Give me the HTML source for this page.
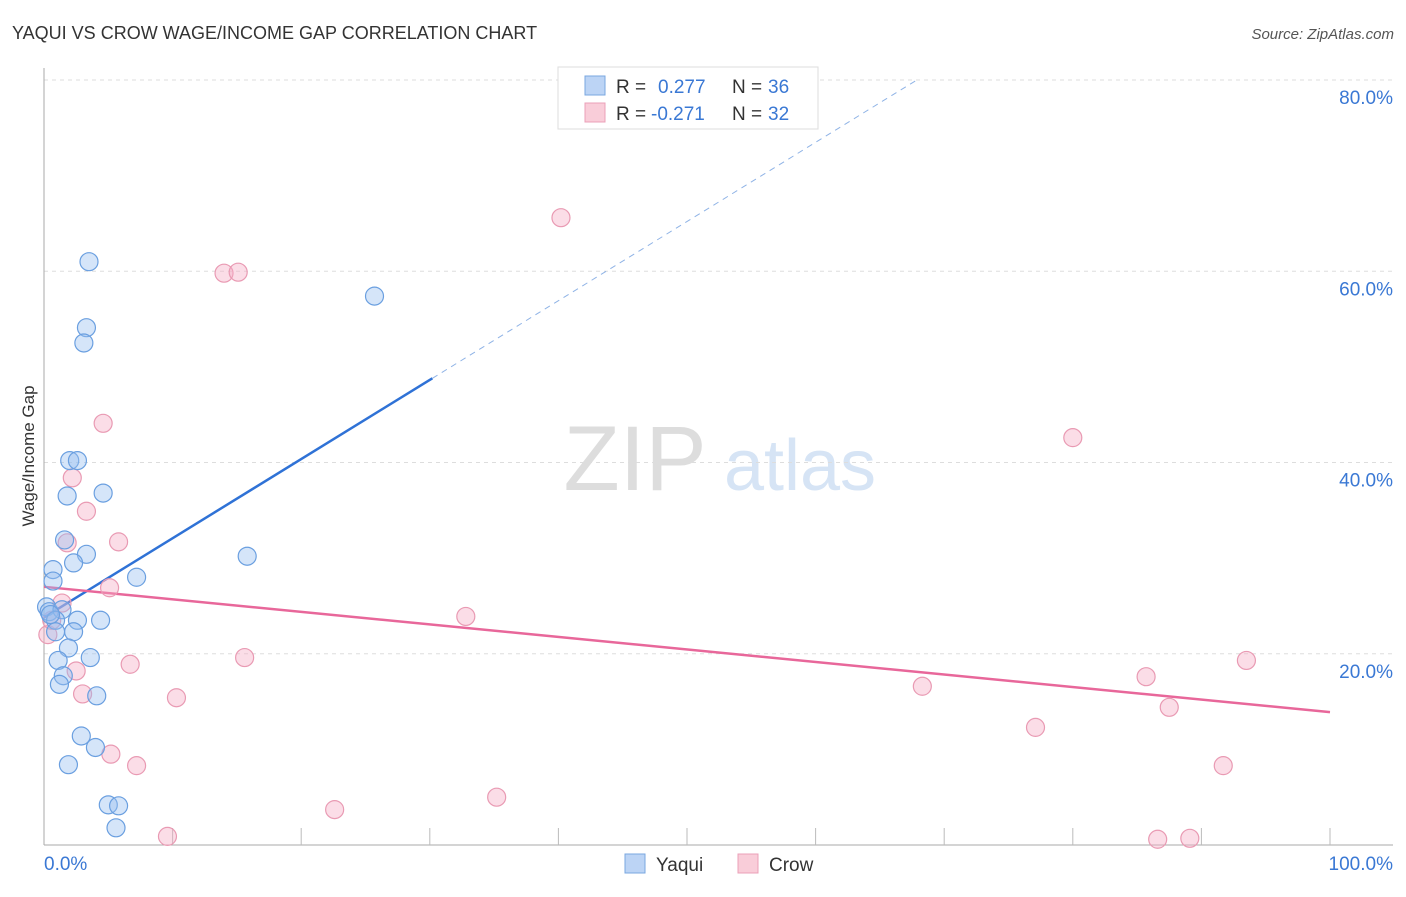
<!DOCTYPE html>
<html><head><meta charset="utf-8"><style>
body{margin:0;background:#fff;font-family:"Liberation Sans",sans-serif;}
svg text{font-family:"Liberation Sans",sans-serif;}
</style></head><body>
<svg id="chart" width="1406" height="892" viewBox="0 0 1406 892" xmlns="http://www.w3.org/2000/svg">
<text x="12" y="39" font-size="18" fill="#333">YAQUI VS CROW WAGE/INCOME GAP CORRELATION CHART</text>
<text x="1394" y="39" font-size="15" fill="#555" font-style="italic" text-anchor="end">Source: ZipAtlas.com</text>
<g>
<text x="635" y="490" font-size="92" fill="#ddd" font-family="Liberation Serif" text-anchor="middle">ZIP</text>
<text x="800" y="490" font-size="72" fill="#d6e4f5" text-anchor="middle">atlas</text>
</g>
<g id="grid"></g>
<g id="axes"></g>
<g id="lines"></g>
<g id="points"></g>
<text transform="translate(34,456) rotate(-90)" font-size="17" fill="#333" text-anchor="middle">Wage/Income Gap</text>
<g>
<rect x="558" y="67" width="260" height="62" fill="#fff" stroke="#ddd"/>
<rect x="585" y="76" width="20" height="19" fill="#bcd4f5" stroke="#7aa7e0"/>
<rect x="585" y="103" width="20" height="19" fill="#f9cdd9" stroke="#eba0b8"/>
<text x="616" y="93" font-size="19" fill="#333">R = </text><text x="658" y="93" font-size="19" fill="#3a78d4">0.277</text>
<text x="732" y="93" font-size="19" fill="#333">N = </text><text x="768" y="93" font-size="19" fill="#3a78d4">36</text>
<text x="616" y="120" font-size="19" fill="#333">R = </text><text x="651" y="120" font-size="19" fill="#3a78d4">-0.271</text>
<text x="732" y="120" font-size="19" fill="#333">N = </text><text x="768" y="120" font-size="19" fill="#3a78d4">32</text>
</g>
<g>
<rect x="625" y="854" width="20" height="19" fill="#bcd4f5" stroke="#7aa7e0"/>
<text x="656" y="871" font-size="19" fill="#333">Yaqui</text>
<rect x="738" y="854" width="20" height="19" fill="#f9cdd9" stroke="#eba0b8"/>
<text x="769" y="871" font-size="19" fill="#333">Crow</text>
</g>
</svg>
<script>
const yaquiX=[3.5,3.3,3.1,25.7,2.0,2.6,1.8,4.6,1.6,3.3,2.3,15.8,7.2,0.7,0.7,0.2,0.4,1.4,0.9,2.6,4.4,2.3,0.9,1.9,3.6,1.1,1.5,1.2,4.1,2.9,4.0,1.9,5.0,5.8,5.6,0.5];
const yaquiY=[61.0,54.1,52.5,57.4,40.2,40.2,36.5,36.8,31.9,30.4,29.5,30.2,28.0,28.8,27.6,24.9,24.4,24.6,23.5,23.5,23.5,22.3,22.3,20.6,19.6,19.3,17.7,16.8,15.6,11.4,10.2,8.4,4.2,4.1,1.8,24.1];
const crowX=[40.2,14.0,15.1,4.6,2.2,3.3,1.8,5.8,5.1,1.4,0.3,32.8,15.6,6.7,2.5,3.0,10.3,5.2,7.2,9.6,22.6,35.2,80.0,68.3,77.1,85.7,87.5,93.5,91.7,86.6,89.1,0.6];
const crowY=[65.6,59.8,59.9,44.1,38.4,34.9,31.6,31.7,26.9,25.3,22.0,23.9,19.6,18.9,18.2,15.8,15.4,9.5,8.3,0.9,3.7,5.0,42.6,16.6,12.3,17.6,14.4,19.3,8.3,0.6,0.7,23.5];
const yTicks=[20,40,60,80];
const yTickLabels=["20.0%","40.0%","60.0%","80.0%"];
const xTicks=[10,20,30,40,50,60,70,80,90,100];
const yaquiTrend=[23.8,0.828];
const crowTrend=[27.0,-0.131];
const NS="http://www.w3.org/2000/svg";
const sx=v=>44+v*12.86, sy=v=>845-v*9.5625;
function mk(p,t,a){const e=document.createElementNS(NS,t);for(const k in a)e.setAttribute(k,a[k]);p.appendChild(e);return e;}
const grid=document.getElementById('grid'),axes=document.getElementById('axes'),lines=document.getElementById('lines'),pts=document.getElementById('points');
yTicks.forEach((t,i)=>{
 const l=mk(grid,'line',{x1:44,x2:1393,y1:sy(t),y2:sy(t),stroke:'#ddd','stroke-dasharray':'4,4'});
 
 
 const tx=mk(grid,'text',{x:1393,y:sy(t)+24,'font-size':19,fill:'#3a78d4','text-anchor':'end'});
 tx.textContent=yTickLabels[i];
 
 
});
const ya=mk(axes,'line',{x1:44,x2:44,y1:68,y2:845,stroke:'#aaa'});


const xa=mk(axes,'line',{x1:44,x2:1393,y1:845,y2:845,stroke:'#aaa'});


xTicks.forEach(t=>{
 const l=mk(axes,'line',{x1:sx(t),x2:sx(t),y1:828,y2:845,stroke:'#bbb'});
 
 
});
const x0=mk(axes,'text',{x:44,y:870,'font-size':19,fill:'#3a78d4'});x0.textContent='0.0%';


const x1=mk(axes,'text',{x:1393,y:870,'font-size':19,fill:'#3a78d4','text-anchor':'end'});x1.textContent='100.0%';


function dot(x,y,fill,stroke,name){const c=mk(pts,'circle',{cx:sx(x),cy:sy(y),r:9,fill:fill,stroke:stroke,'stroke-width':1.2});
 
 }
crowX.forEach((x,i)=>dot(x,crowY[i],'rgba(246,170,195,0.4)','#e99ab3','crow-point'));
yaquiX.forEach((x,i)=>dot(x,yaquiY[i],'rgba(150,190,240,0.4)','#6a9fe0','yaqui-point'));
const yEndSolid=30.2, yEndDash=(80-yaquiTrend[0])/yaquiTrend[1];
const b1=mk(lines,'line',{x1:sx(0),y1:sy(yaquiTrend[0]),x2:sx(yEndSolid),y2:sy(yaquiTrend[0]+yaquiTrend[1]*yEndSolid),stroke:'#2f72d6','stroke-width':2.5});


const b2=mk(lines,'line',{x1:sx(yEndSolid),y1:sy(yaquiTrend[0]+yaquiTrend[1]*yEndSolid),x2:sx(yEndDash),y2:sy(80),stroke:'#8fb3e6','stroke-width':1,'stroke-dasharray':'6,5'});


const p1=mk(lines,'line',{x1:sx(0),y1:sy(crowTrend[0]),x2:sx(100),y2:sy(crowTrend[0]+crowTrend[1]*100),stroke:'#e8679a','stroke-width':2.5});


</script>
</body></html>
